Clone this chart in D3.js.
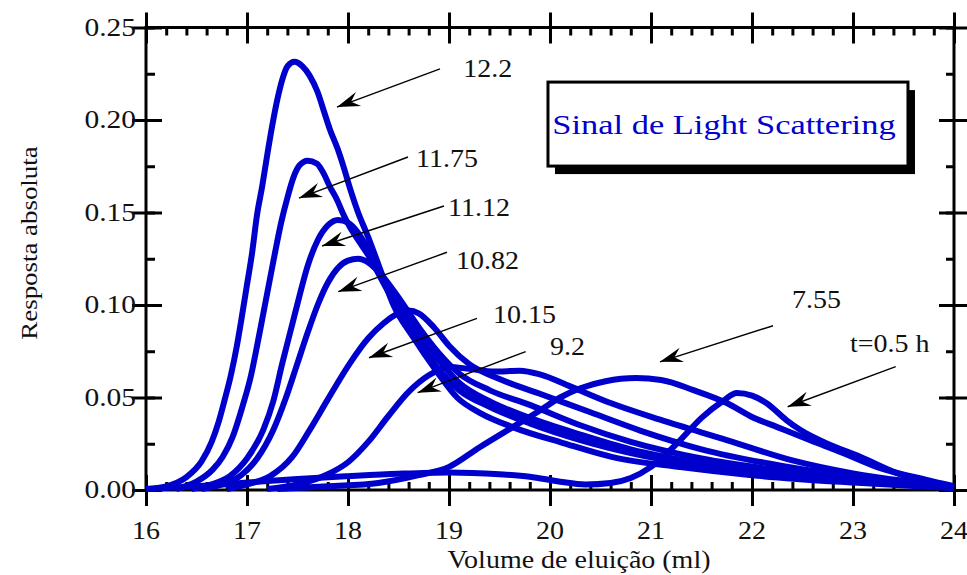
<!DOCTYPE html>
<html>
<head>
<meta charset="utf-8">
<script src="https://cdn.jsdelivr.net/npm/d3@7"></script>
<style>
  html, body { margin: 0; padding: 0; background: #fff; }
  svg { display: block; }
  text { font-family: "Liberation Serif", "Times New Roman", serif; }
</style>
</head>
<body>
<svg id="chart" width="967" height="575"></svg>
<script>
// Elution profiles (volume in ml, absolute response), one array per sample
const s12_2 = [[16.0,0.0005],[16.2,0.002],[16.4,0.007],[16.55,0.0155],[16.65,0.026],[16.72,0.037],[16.78,0.049],[16.84,0.062],[16.9,0.078],[16.95,0.094],[17.0,0.111],[17.05,0.128],[17.1,0.149],[17.15,0.164],[17.2,0.181],[17.25,0.197],[17.3,0.211],[17.35,0.222],[17.4,0.229],[17.47,0.2315],[17.55,0.229],[17.62,0.224],[17.7,0.215],[17.76,0.205],[17.82,0.195],[17.9,0.184],[17.96,0.174],[18.02,0.163],[18.1,0.150],[18.19,0.138],[18.3,0.122],[18.45,0.1],[18.64,0.083],[18.88,0.064],[19.08,0.05],[19.31,0.0416],[19.63,0.034],[20.13,0.0254],[20.62,0.0178],[21.29,0.0124],[22.0,0.008],[23.0,0.004],[24.0,0.001]];
const s11_75 = [[16.3,0.0005],[16.5,0.0045],[16.66,0.011],[16.76,0.018],[16.86,0.029],[16.96,0.046],[17.04,0.062],[17.1,0.078],[17.16,0.095],[17.22,0.112],[17.28,0.129],[17.34,0.145],[17.4,0.158],[17.46,0.169],[17.52,0.1755],[17.6,0.178],[17.69,0.1765],[17.76,0.171],[17.82,0.164],[17.89,0.157],[17.95,0.1495],[18.02,0.142],[18.09,0.136],[18.2,0.127],[18.35,0.112],[18.5,0.097],[18.7,0.08],[18.9,0.065],[19.1,0.054],[19.4,0.045],[19.8,0.036],[20.3,0.027],[20.8,0.02],[21.5,0.013],[22.3,0.008],[23.2,0.004],[24.0,0.0015]];
const s11_12 = [[16.45,0.0005],[16.65,0.003],[16.83,0.0075],[17.0,0.017],[17.16,0.0324],[17.26,0.048],[17.35,0.0686],[17.45,0.09],[17.52,0.105],[17.6,0.121],[17.7,0.135],[17.8,0.143],[17.9,0.146],[18.0,0.1445],[18.1,0.139],[18.2,0.13],[18.35,0.115],[18.5,0.1],[18.7,0.084],[18.9,0.07],[19.1,0.058],[19.4,0.048],[19.8,0.039],[20.3,0.03],[20.8,0.022],[21.5,0.0145],[22.3,0.009],[23.2,0.0045],[24.0,0.0015]];
const s10_82 = [[16.55,0.0005],[16.75,0.003],[16.93,0.0075],[17.1,0.017],[17.26,0.0324],[17.38,0.049],[17.5,0.0686],[17.6,0.085],[17.7,0.1],[17.8,0.112],[17.9,0.12],[18.0,0.124],[18.1,0.125],[18.2,0.123],[18.35,0.115],[18.5,0.104],[18.7,0.088],[18.9,0.074],[19.1,0.063],[19.4,0.054],[19.8,0.046],[20.3,0.035],[20.8,0.026],[21.5,0.017],[22.3,0.0105],[23.2,0.005],[24.0,0.0015]];
const s10_15 = [[16.8,0.0005],[17.0,0.003],[17.23,0.0075],[17.45,0.018],[17.62,0.0324],[17.8,0.049],[18.02,0.0686],[18.2,0.082],[18.35,0.09],[18.5,0.0955],[18.6,0.097],[18.7,0.0955],[18.85,0.088],[19.0,0.078],[19.2,0.068],[19.5,0.06],[19.9,0.052],[20.4,0.042],[20.9,0.032],[21.5,0.022],[22.3,0.013],[23.2,0.006],[24.0,0.002]];
const s9_2 = [[17.2,0.0005],[17.5,0.003],[17.8,0.0085],[18.0,0.015],[18.2,0.026],[18.4,0.04],[18.6,0.053],[18.8,0.062],[19.0,0.0665],[19.2,0.0655],[19.45,0.064],[19.7,0.0645],[19.9,0.0625],[20.2,0.056],[20.6,0.047],[21.09,0.038],[21.75,0.027],[22.4,0.016],[23.0,0.009],[23.5,0.005],[24.0,0.002]];
const s7_55 = [[17.3,0.0005],[17.8,0.002],[18.3,0.0038],[18.7,0.008],[19.0,0.0125],[19.3,0.023],[19.63,0.034],[19.9,0.043],[20.1,0.05],[20.3,0.055],[20.55,0.0588],[20.85,0.0605],[21.1,0.0595],[21.42,0.054],[21.75,0.047],[22.0,0.0395],[22.25,0.034],[22.57,0.027],[22.9,0.02],[23.24,0.0124],[23.73,0.0054],[24.0,0.002]];
const s0_5h = [[16.0,0.0005],[16.5,0.002],[17.0,0.004],[17.5,0.006],[18.0,0.0075],[18.5,0.0088],[19.0,0.0095],[19.5,0.0085],[19.8,0.0072],[20.1,0.0045],[20.35,0.003],[20.6,0.0038],[20.8,0.0065],[21.0,0.0125],[21.29,0.027],[21.5,0.039],[21.71,0.048],[21.85,0.0524],[22.0,0.051],[22.145,0.0469],[22.34,0.0378],[22.48,0.0324],[22.74,0.0252],[23.07,0.018],[23.4,0.0099],[23.73,0.0036],[24.0,0.001]];

const seriesList = [s12_2, s11_75, s11_12, s10_82, s10_15, s9_2, s7_55, s0_5h];

// Curve labels and their pointer arrows (data coordinates)
const labelText = ["12.2", "11.75", "11.12", "10.82", "10.15", "9.2", "7.55", "t=0.5 h"];
const labelPos  = [[19.14,0.2232],[18.673,0.1746],[18.99,0.1481],[19.069,0.1195],[19.436,0.0904],[20.0,0.0730],[22.396,0.0984],[22.97,0.0746]];
const arrowFrom = [[18.911,0.2276],[18.594,0.18],[18.95,0.1535],[18.98,0.1285],[19.277,0.0928],[19.759,0.0748],[22.208,0.0888],[23.423,0.0667]];
const arrowTo   = [[17.891,0.207],[17.515,0.1578],[17.743,0.1319],[17.904,0.1072],[18.208,0.0715],[18.690,0.0526],[21.089,0.0693],[22.353,0.0450]];

const xTicks = [16, 17, 18, 19, 20, 21, 22, 23, 24];
const yTicks = [0, 0.05, 0.10, 0.15, 0.20, 0.25];

const titleText = "Sinal de Light Scattering";
const xTitle = "Volume de eluição (ml)";
const yTitle = "Resposta absoluta";

const svg = d3.select("#chart");
const blue = "#0000cd";
const STRETCH = 1.12;

const x = d3.scaleLinear().domain([16, 24]).range([146, 954]);
const y = d3.scaleLinear().domain([0, 0.25]).range([490, 27.5]);

function label(g, str, px, py, opts) {
  const o = Object.assign({ size: 25, anchor: "start", sx: STRETCH, rot: 0, fill: "#111" }, opts || {});
  return g.append("text")
    .attr("transform", `translate(${px},${py}) rotate(${o.rot}) scale(${o.sx},1)`)
    .attr("text-anchor", o.anchor)
    .attr("font-size", o.size)
    .attr("fill", o.fill)
    .text(str);
}

// ---- axes frame with crossing major ticks ----
const minorX = d3.range(16, 24.001, 0.2).map(v => +v.toFixed(2));
const minorY = d3.range(0, 0.2501, 0.025).map(v => +v.toFixed(3));
const axisG = svg.append("g").attr("class", "axes");

function styleAxis(sel) {
  sel.select(".domain").remove();
  sel.selectAll("line").attr("stroke", "#000").attr("stroke-width", 3);
  sel.selectAll("text").remove();
}

// bottom
axisG.append("g").attr("transform", `translate(0,${y(0)})`)
  .call(d3.axisBottom(x).tickValues(xTicks).tickSize(16)).call(styleAxis);
axisG.append("g").attr("transform", `translate(0,${y(0)})`)
  .call(d3.axisTop(x).tickValues(xTicks).tickSize(15)).call(styleAxis);
axisG.append("g").attr("transform", `translate(0,${y(0)})`)
  .call(d3.axisTop(x).tickValues(minorX).tickSize(8)).call(styleAxis);
// top
axisG.append("g").attr("transform", `translate(0,${y(0.25)})`)
  .call(d3.axisTop(x).tickValues(xTicks).tickSize(15)).call(styleAxis);
axisG.append("g").attr("transform", `translate(0,${y(0.25)})`)
  .call(d3.axisBottom(x).tickValues(xTicks).tickSize(16)).call(styleAxis);
axisG.append("g").attr("transform", `translate(0,${y(0.25)})`)
  .call(d3.axisBottom(x).tickValues(minorX).tickSize(8)).call(styleAxis);
// left
axisG.append("g").attr("transform", `translate(${x(16)},0)`)
  .call(d3.axisLeft(y).tickValues(yTicks).tickSize(14)).call(styleAxis);
axisG.append("g").attr("transform", `translate(${x(16)},0)`)
  .call(d3.axisRight(y).tickValues(yTicks).tickSize(16)).call(styleAxis);
axisG.append("g").attr("transform", `translate(${x(16)},0)`)
  .call(d3.axisRight(y).tickValues(minorY).tickSize(9)).call(styleAxis);
// right
axisG.append("g").attr("transform", `translate(${x(24)},0)`)
  .call(d3.axisRight(y).tickValues(yTicks).tickSize(13)).call(styleAxis);
axisG.append("g").attr("transform", `translate(${x(24)},0)`)
  .call(d3.axisLeft(y).tickValues(yTicks).tickSize(15)).call(styleAxis);
axisG.append("g").attr("transform", `translate(${x(24)},0)`)
  .call(d3.axisLeft(y).tickValues(minorY).tickSize(8)).call(styleAxis);

// frame lines
axisG.append("rect")
  .attr("x", x(16)).attr("y", y(0.25))
  .attr("width", x(24) - x(16)).attr("height", y(0) - y(0.25))
  .attr("fill", "none").attr("stroke", "#000").attr("stroke-width", 3);

// tick labels
xTicks.forEach(v => label(svg, String(v), x(v), 539, { anchor: "middle" }));
yTicks.forEach(v => label(svg, v.toFixed(2), 136, y(v) + 8, { anchor: "end", sx: 1.18 }));

// axis titles
label(svg, xTitle, (x(16) + x(24)) / 2 + 29, 568, { anchor: "middle" });
label(svg, yTitle, 37, 243, { size: 24, anchor: "middle", rot: -90, sx: 1.12 });

// ---- curves ----
const line = d3.line()
  .x(d => x(d[0]))
  .y(d => y(d[1]))
  .curve(d3.curveMonotoneX);

svg.append("g").attr("class", "curves")
  .selectAll("path")
  .data(seriesList)
  .join("path")
  .attr("d", line)
  .attr("fill", "none")
  .attr("stroke", blue)
  .attr("stroke-width", 6)
  .attr("stroke-linejoin", "round");

// ---- annotation arrows ----
const defs = svg.append("defs");
defs.append("marker")
  .attr("id", "head")
  .attr("markerUnits", "userSpaceOnUse")
  .attr("viewBox", "-24 -9 26 18")
  .attr("refX", 0).attr("refY", 0)
  .attr("markerWidth", 26).attr("markerHeight", 18)
  .attr("orient", "auto")
  .append("path")
  .attr("d", "M0,0 L-23,-7.5 L-15,0 L-23,7.5 Z")
  .attr("fill", "#000");

const annG = svg.append("g").attr("class", "annotations");
labelText.forEach((t, i) => {
  annG.append("line")
    .attr("x1", x(arrowFrom[i][0])).attr("y1", y(arrowFrom[i][1]))
    .attr("x2", x(arrowTo[i][0])).attr("y2", y(arrowTo[i][1]))
    .attr("stroke", "#000").attr("stroke-width", 1.4)
    .attr("marker-end", "url(#head)");
  label(annG, t, x(labelPos[i][0]), y(labelPos[i][1]));
});

// ---- title box with drop shadow ----
const boxX = x(19.98), boxY = y(0.2205), boxW = 360, boxH = 84;
svg.append("rect").attr("x", boxX + 7).attr("y", boxY + 8)
  .attr("width", boxW).attr("height", boxH).attr("fill", "#000");
svg.append("rect").attr("x", boxX).attr("y", boxY)
  .attr("width", boxW).attr("height", boxH)
  .attr("fill", "#fff").attr("stroke", "#000").attr("stroke-width", 3);
label(svg, titleText, boxX + boxW / 2 - 4, boxY + 52, { size: 28, anchor: "middle", sx: 1.23, fill: "#0000cd" });
</script>
</body>
</html>
